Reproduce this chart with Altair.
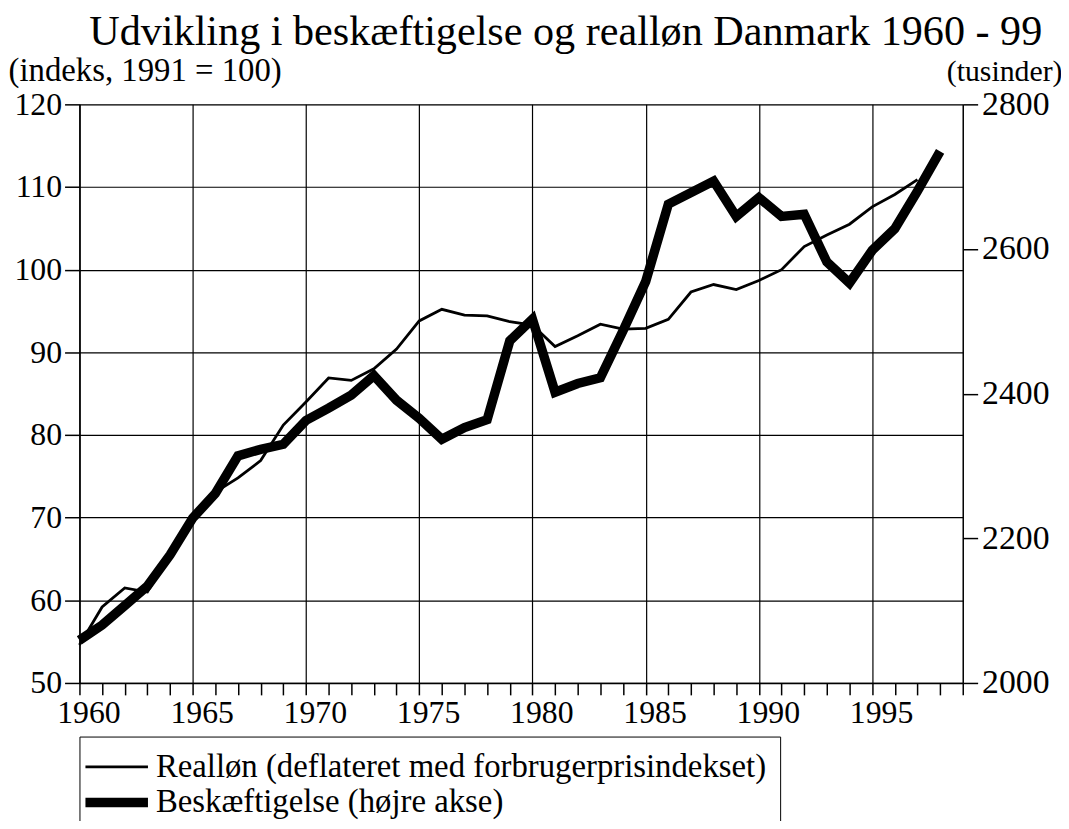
import altair as alt
import pandas as pd

years_real = list(range(1960, 1998))
realloen = [54.6, 59.2, 61.5, 61.0, 65.5, 70.0, 73.1, 74.8, 76.9, 81.2,
            84.0, 86.9, 86.6, 88.0, 90.4, 93.8, 95.2, 94.5, 94.4, 93.7,
            93.3, 90.7, 92.0, 93.4, 92.8, 92.9, 94.0, 97.3, 98.2, 97.6,
            98.7, 100.0, 102.8, 104.2, 105.5, 107.6, 109.1, 110.9]

years_emp = list(range(1960, 1999))
beskaeftigelse = [2059, 2080, 2107, 2134, 2177, 2228, 2262, 2314, 2323, 2330,
                  2363, 2380, 2398, 2425, 2391, 2366, 2337, 2353, 2364, 2473,
                  2503, 2402, 2414, 2422, 2487, 2555, 2662, 2678, 2694, 2645,
                  2671, 2645, 2648, 2582, 2553, 2598, 2628, 2680, 2735]

series_names = ["Realløn (deflateret med forbrugerprisindekset)",
                "Beskæftigelse (højre akse)"]
left_ticks = [50, 60, 70, 80, 90, 100, 110, 120]
right_ticks = [2000, 2200, 2400, 2600, 2800]
x_ticks = list(range(1960, 2000))

FONT = "Liberation Serif"

df_r = pd.DataFrame({"år": years_real, "værdi": realloen, "serie": series_names[0]})
df_b = pd.DataFrame({"år": years_emp, "værdi": beskaeftigelse, "serie": series_names[1]})

x_enc = alt.X("år:Q", scale=alt.Scale(domain=[1960, 1999], nice=False, zero=False),
              axis=alt.Axis(values=x_ticks, format="d", title=None,
                            labelExpr="datum.value % 5 === 0 ? datum.label : ''",
                            labelOverlap=False, labelFlush=False, labelAlign="center",
                            labelBound=False,
                            labelFont=FONT, labelFontSize=32,
                            labelColor="black", labelPadding=3, labelOffset=9,
                            tickSize=12, tickColor="black", tickWidth=1.5,
                            domainColor="black", domainWidth=1.5,
                            grid=True, gridColor="black", gridWidth=1.2,
                            gridOpacity={"condition": {"test": "datum.value % 5 === 0", "value": 1}, "value": 0}))

legend = alt.Legend(title=None, orient="none", legendX=0, legendY=637,
                    direction="vertical",
                    labelFont=FONT, labelFontSize=33, labelColor="black",
                    labelLimit=1000,
                    symbolType="M-2.33,0H3.67", symbolSize=441,
                    symbolStrokeColor="black",
                    strokeColor="black", padding=14,
                    rowPadding=-1, labelOffset=30)

color_enc = alt.Color("serie:N", scale=alt.Scale(domain=series_names, range=["black", "black"]),
                      legend=legend)
sw_enc = alt.StrokeWidth("serie:N", scale=alt.Scale(domain=series_names, range=[2.8, 9.5]),
                         legend=legend)

real_line = alt.Chart(df_r).mark_line(strokeJoin="miter", strokeMiterLimit=4).encode(
    x=x_enc,
    y=alt.Y("værdi:Q", scale=alt.Scale(domain=[50, 120], nice=False, zero=False),
            axis=alt.Axis(values=left_ticks, orient="left",
                          title="(indeks, 1991 = 100)", titleAngle=0, titleAlign="left",
                          titleBaseline="alphabetic", titleX=-72, titleY=-24,
                          titleFont=FONT, titleFontSize=33, titleFontWeight="normal",
                          titleColor="black",
                          labelFont=FONT, labelFontSize=32, labelColor="black",
                          labelPadding=3, tickSize=15, tickColor="black", tickWidth=1.5,
                          domainColor="black", domainWidth=1.5,
                          grid=True, gridColor="black", gridWidth=1.2)),
    color=color_enc,
    strokeWidth=sw_enc,
)

emp_line = alt.Chart(df_b).mark_line(strokeJoin="miter", strokeMiterLimit=4).encode(
    x=x_enc,
    y=alt.Y("værdi:Q", scale=alt.Scale(domain=[2000, 2800], nice=False, zero=False),
            axis=alt.Axis(values=right_ticks, orient="right", format="d",
                          title="(tusinder)", titleAngle=0, titleAlign="right",
                          titleBaseline="alphabetic", titleX=100, titleY=-24,
                          titleFont=FONT, titleFontSize=30, titleFontWeight="normal",
                          titleColor="black",
                          labelFont=FONT, labelFontSize=34, labelColor="black",
                          labelPadding=4, tickSize=15, tickColor="black", tickWidth=1.5,
                          domainColor="black", domainWidth=1.5, grid=False)),
    color=color_enc,
    strokeWidth=sw_enc,
)

chart = alt.layer(real_line, emp_line).resolve_scale(y="independent").properties(
    width=890, height=583,
    autosize=alt.AutoSizeParams(type="none"),
    padding={"left": 72, "top": 94, "right": 99, "bottom": 136},
    title=alt.TitleParams("Udvikling i beskæftigelse og realløn Danmark 1960 - 99",
                          font=FONT, fontSize=42.5, fontWeight="normal", color="black",
                          anchor="middle", frame="group", dx=45, dy=-1, offset=0),
).configure_view(stroke=None).configure(background="white")

chart.save("out.html", embed_options={"renderer": "svg", "actions": False})
